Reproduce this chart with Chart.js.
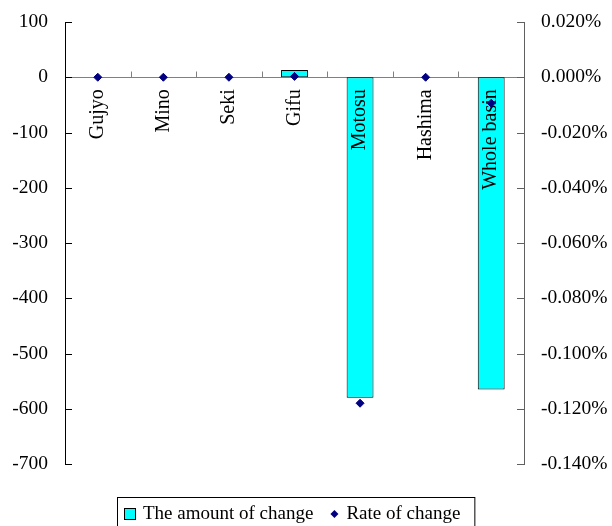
<!DOCTYPE html>
<html>
<head>
<meta charset="utf-8">
<script src="https://cdn.jsdelivr.net/npm/chart.js@4.4.0/dist/chart.umd.min.js"></script>
<style>
  html, body { margin: 0; padding: 0; background: #ffffff; }
  #wrap { width: 612px; height: 526px; }
</style>
</head>
<body>
<div id="wrap"><canvas id="c" width="612" height="526"></canvas></div>
<script>
// Change by district
const categories = ['Gujyo', 'Mino', 'Seki', 'Gifu', 'Motosu', 'Hashima', 'Whole basin'];
const amountOfChange = [0, 0, 0, 13, -580, 0, -565];          // left axis
const rateOfChange = [0, 0, 0, 0.0003, -0.118, 0, -0.0094];   // right axis, in percent

// Axis ranges and tick spacing
const amountAxis = { min: -700, max: 100, step: 100 };
const rateAxis = { min: -0.14, max: 0.02, step: 0.02 };

const SERIF = "'Liberation Serif', 'Times New Roman', serif";
const BAR_FILL = '#00FFFF';
const MARKER = '#000080';

function pct(v) {
  if (Math.abs(v) < 1e-9) v = 0;
  return v.toFixed(3) + '%';
}

// fixed axis widths; the tick labels may overhang the plot's top and bottom
function fitAxis(width) {
  return s => {
    s.width = width;
    s.paddingTop = 0;
    s.paddingBottom = 0;
  };
}

// Zero line, inner tick marks, category names and the boxed legend
const decorations = {
  id: 'decorations',
  beforeDatasetsDraw(chart) {
    const { ctx, chartArea: a, scales } = chart;
    const y0 = Math.round(scales.y.getPixelForValue(0)) + 0.5;
    ctx.save();
    ctx.lineWidth = 1;
    ctx.strokeStyle = '#808080';
    ctx.beginPath();
    ctx.moveTo(a.left, y0);
    ctx.lineTo(a.right, y0);
    // category boundary ticks above the zero line
    for (let i = 1; i < categories.length; i++) {
      const x = Math.round(scales.x.getPixelForValue(i - 0.5)) + 0.5;
      ctx.moveTo(x, y0 - 6);
      ctx.lineTo(x, y0);
    }
    ctx.stroke();

    // inner ticks of the left axis
    ctx.strokeStyle = '#000000';
    ctx.beginPath();
    scales.y.ticks.forEach(t => {
      const py = Math.round(scales.y.getPixelForValue(t.value)) + 0.5;
      ctx.moveTo(a.left, py);
      ctx.lineTo(a.left + 7, py);
    });
    ctx.stroke();

    // inner ticks of the right axis
    ctx.strokeStyle = '#606060';
    ctx.beginPath();
    scales.y2.ticks.forEach(t => {
      const py = Math.round(scales.y2.getPixelForValue(t.value)) + 0.5;
      ctx.moveTo(a.right - 7, py);
      ctx.lineTo(a.right, py);
    });
    ctx.stroke();
    ctx.restore();
  },
  afterDatasetDraw(chart, args) {
    if (args.index !== 0) return;
    const { ctx, scales } = chart;
    const y0 = scales.y.getPixelForValue(0);
    ctx.save();
    ctx.fillStyle = '#000000';
    ctx.font = '20px ' + SERIF;
    ctx.textAlign = 'right';
    ctx.textBaseline = 'middle';
    categories.forEach((name, i) => {
      ctx.save();
      ctx.translate(scales.x.getPixelForValue(i), y0 + 12);
      ctx.rotate(-Math.PI / 2);
      ctx.fillText(name, 0, 0);
      ctx.restore();
    });
    ctx.restore();
  },
  afterDraw(chart) {
    const { ctx, chartArea: a } = chart;
    const ds = chart.data.datasets;
    ctx.save();
    ctx.font = '19px ' + SERIF;
    ctx.textBaseline = 'middle';
    const w1 = ctx.measureText(ds[0].label).width;
    const w2 = ctx.measureText(ds[1].label).width;
    const total = 12 + 7 + w1 + 17 + 8 + 8 + w2;
    const cy = 514;
    let x = Math.round((a.left + a.right) / 2 - 2 - total / 2);

    // frame
    ctx.strokeStyle = '#000000';
    ctx.lineWidth = 1;
    ctx.strokeRect(x - 7 + 0.5, 497.5, total + 21, 40);

    // bar swatch
    ctx.fillStyle = ds[0].backgroundColor;
    ctx.fillRect(x, cy - 6, 12, 12);
    ctx.strokeStyle = ds[0].borderColor;
    ctx.strokeRect(x + 0.5, cy - 5.5, 11, 11);
    x += 12 + 7;
    ctx.fillStyle = '#000000';
    ctx.fillText(ds[0].label, x, cy);
    x += w1 + 17;

    // diamond marker
    ctx.fillStyle = ds[1].backgroundColor;
    ctx.beginPath();
    ctx.moveTo(x, cy);
    ctx.lineTo(x + 4, cy - 4);
    ctx.lineTo(x + 8, cy);
    ctx.lineTo(x + 4, cy + 4);
    ctx.closePath();
    ctx.fill();
    x += 8 + 8;
    ctx.fillStyle = '#000000';
    ctx.fillText(ds[1].label, x, cy);
    ctx.restore();
  }
};

new Chart(document.getElementById('c'), {
  data: {
    labels: categories,
    datasets: [
      {
        type: 'bar',
        label: 'The amount of change',
        data: amountOfChange,
        yAxisID: 'y',
        backgroundColor: BAR_FILL,
        borderColor: '#000000',
        borderWidth: 1,
        borderSkipped: false,
        barPercentage: 0.41,
        categoryPercentage: 1.0,
        order: 1
      },
      {
        type: 'line',
        label: 'Rate of change',
        data: rateOfChange,
        yAxisID: 'y2',
        showLine: false,
        pointStyle: 'rectRot',
        pointRadius: 4,
        pointBorderWidth: 1,
        backgroundColor: MARKER,
        borderColor: MARKER,
        order: 0
      }
    ]
  },
  options: {
    responsive: false,
    animation: false,
    devicePixelRatio: 1,
    layout: { padding: { top: 22, bottom: 62, left: 0, right: 0 } },
    plugins: {
      legend: { display: false },
      tooltip: { enabled: false }
    },
    scales: {
      x: {
        type: 'category',
        display: false,
        offset: true
      },
      y: {
        position: 'left',
        min: amountAxis.min,
        max: amountAxis.max,
        afterFit: fitAxis(65),
        ticks: {
          stepSize: amountAxis.step,
          color: '#000000',
          padding: 17,
          font: { family: SERIF, size: 19.5 }
        },
        grid: { display: false, drawTicks: false },
        border: { display: true, color: '#000000', width: 1 }
      },
      y2: {
        position: 'right',
        min: rateAxis.min,
        max: rateAxis.max,
        afterFit: fitAxis(88),
        ticks: {
          stepSize: rateAxis.step,
          color: '#000000',
          padding: 17,
          font: { family: SERIF, size: 19.5 },
          callback: v => pct(v)
        },
        grid: { display: false, drawTicks: false },
        border: { display: true, color: '#606060', width: 1 }
      }
    }
  },
  plugins: [decorations]
});
</script>
</body>
</html>
